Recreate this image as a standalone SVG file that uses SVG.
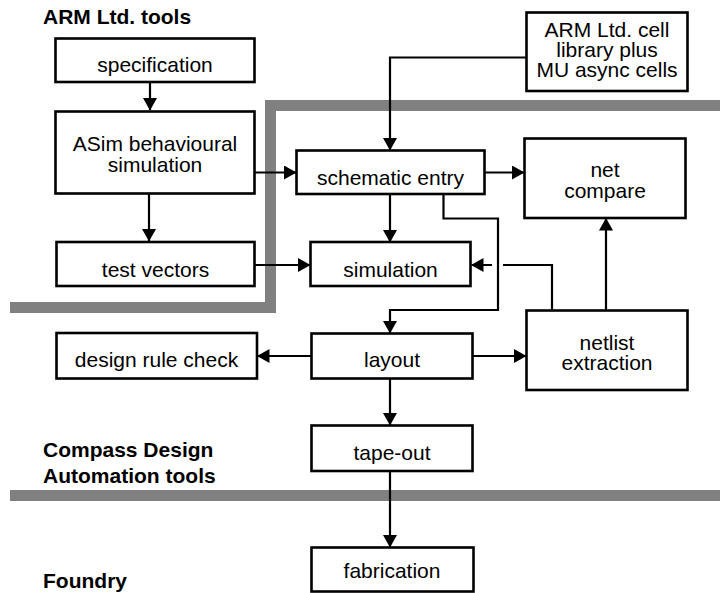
<svg xmlns="http://www.w3.org/2000/svg" width="720" height="593" viewBox="0 0 720 593">
<style>
.bg{fill:#fff}
.bar{fill:none;stroke:#808080;stroke-width:11;stroke-linejoin:miter}
.box{fill:#fff;stroke:#000;stroke-width:2.6}
.t{font-family:"Liberation Sans",Arial,sans-serif;font-size:21px;fill:#000;text-anchor:middle}
.lbl{font-family:"Liberation Sans",Arial,sans-serif;font-size:21px;font-weight:bold;fill:#000}
.c{fill:none;stroke:#000;stroke-width:2.2}
</style>
<defs>
<marker id="ah" markerUnits="userSpaceOnUse" markerWidth="13" markerHeight="14" refX="12" refY="7" orient="auto" viewBox="0 0 13 14">
<path d="M0,0 L12.5,7 L0,14 z" fill="#000"/>
</marker>
</defs>
<rect class="bg" x="0" y="0" width="720" height="593"/>
<g id="barriers">
<path class="bar" d="M720,105.5 H270.5 V307.5 H10"/>
<path class="bar" d="M10,495.5 H720"/>
</g>
<g id="labels">
<text class="lbl" x="43" y="24">ARM Ltd. tools</text>
<text class="lbl" x="43" y="457">Compass Design</text>
<text class="lbl" x="43" y="483">Automation tools</text>
<text class="lbl" x="43" y="588">Foundry</text>
</g>
<g id="connectors">
<path class="c" marker-end="url(#ah)" d="M150,82 V110"/>
<path class="c" marker-end="url(#ah)" d="M149,194 V241"/>
<path class="c" marker-end="url(#ah)" d="M255,172.5 H296"/>
<path class="c" marker-end="url(#ah)" d="M255,265 H310"/>
<path class="c" marker-end="url(#ah)" d="M526,57.5 H390 V150"/>
<path class="c" marker-end="url(#ah)" d="M485,172.5 H524"/>
<path class="c" marker-end="url(#ah)" d="M390,194 V242"/>
<path class="c" marker-end="url(#ah)" d="M443.5,194 V218.5 H498 V310 H390 V333"/>
<path class="c" marker-end="url(#ah)" d="M552,310 V265 H503 M492,265 H471.5"/>
<path class="c" marker-end="url(#ah)" d="M606,310 V218.5"/>
<path class="c" marker-end="url(#ah)" d="M472,356 H526"/>
<path class="c" marker-end="url(#ah)" d="M311,356 H257.5"/>
<path class="c" marker-end="url(#ah)" d="M390,378 V425"/>
<path class="c" marker-end="url(#ah)" d="M390,471 V547"/>
</g>
<g id="specification">
<rect class="box" x="55.5" y="38.5" width="199" height="43.5"/>
<text class="t" x="155" y="72">specification</text>
</g>
<g id="asim">
<rect class="box" x="55.5" y="111.5" width="199" height="82"/>
<text class="t" x="155" y="151">ASim behavioural</text>
<text class="t" x="155" y="172">simulation</text>
</g>
<g id="test-vectors">
<rect class="box" x="56.5" y="242" width="198" height="44"/>
<text class="t" x="155.5" y="277">test vectors</text>
</g>
<g id="cell-library">
<rect class="box" x="526.5" y="12.5" width="161" height="78.5"/>
<text class="t" x="607" y="37">ARM Ltd. cell</text>
<text class="t" x="607" y="57">library plus</text>
<text class="t" x="607" y="77">MU async cells</text>
</g>
<g id="schematic-entry">
<rect class="box" x="296.5" y="150.5" width="188" height="43.5"/>
<text class="t" x="390.5" y="185">schematic entry</text>
</g>
<g id="net-compare">
<rect class="box" x="524.5" y="138.5" width="161" height="79.5"/>
<text class="t" x="605" y="177">net</text>
<text class="t" x="605" y="198">compare</text>
</g>
<g id="simulation">
<rect class="box" x="310.5" y="242" width="160" height="44"/>
<text class="t" x="390.5" y="277">simulation</text>
</g>
<g id="design-rule-check">
<rect class="box" x="56.5" y="333" width="200.5" height="45.5"/>
<text class="t" x="156.5" y="367">design rule check</text>
</g>
<g id="layout">
<rect class="box" x="311.5" y="333.5" width="161" height="45"/>
<text class="t" x="392" y="367">layout</text>
</g>
<g id="netlist-extraction">
<rect class="box" x="526.5" y="310.5" width="161" height="79.5"/>
<text class="t" x="607" y="350">netlist</text>
<text class="t" x="607" y="370">extraction</text>
</g>
<g id="tape-out">
<rect class="box" x="311.5" y="425.5" width="161" height="45.5"/>
<text class="t" x="392" y="460">tape-out</text>
</g>
<g id="fabrication">
<rect class="box" x="311.5" y="547.5" width="162" height="44"/>
<text class="t" x="392" y="578">fabrication</text>
</g>
</svg>
